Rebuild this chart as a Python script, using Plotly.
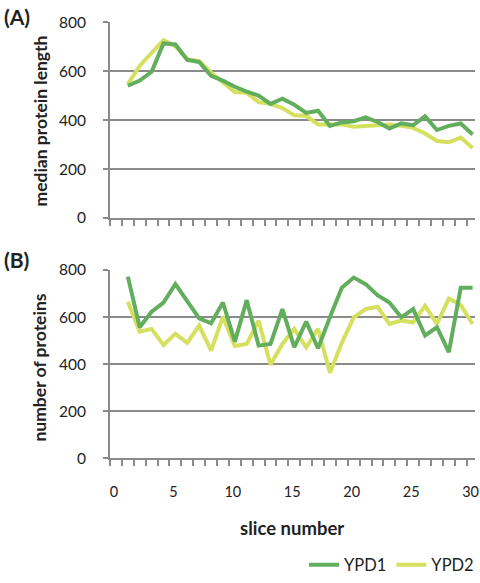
import plotly.graph_objects as go

slices = list(range(1, 31))

length_ypd1 = [541, 562, 598, 714, 710, 647, 638, 582, 562, 537,
               517, 501, 467, 488, 463, 430, 439, 377, 391, 396,
               412, 393, 366, 387, 380, 416, 360, 377, 387, 342]
length_ypd2 = [548, 622, 676, 727, 703, 649, 642, 595, 555, 515,
               512, 474, 467, 450, 420, 418, 383, 383, 383, 373,
               377, 383, 383, 377, 369, 346, 315, 310, 329, 286]

count_ypd1 = [772, 557, 623, 662, 740, 665, 595, 574, 662, 496,
              672, 479, 486, 634, 472, 581, 468, 600, 725, 768,
              740, 693, 662, 599, 634, 522, 557, 451, 725, 725]
count_ypd2 = [665, 538, 550, 482, 529, 491, 564, 458, 602, 477,
              486, 585, 398, 486, 550, 472, 550, 364, 491, 599,
              634, 644, 571, 585, 578, 648, 571, 679, 651, 571]

y_ticks = [0, 200, 400, 600, 800]
x_ticks = [0, 5, 10, 15, 20, 25, 30]

GREEN = "#62ae5d"
YELLOW = "#d5e05e"
GRID = "#8a8a8a"
FONT = "Lato"
W, H = 480, 583

def px_x(p):
    return p / W

def px_y(p):
    return 1 - p / H

fig = go.Figure()

fig.add_trace(go.Scatter(x=slices, y=length_ypd2, mode="lines", name="YPD2",
                         line=dict(color=YELLOW, width=4), xaxis="x", yaxis="y",
                         legendrank=2, showlegend=True))
fig.add_trace(go.Scatter(x=slices, y=length_ypd1, mode="lines", name="YPD1",
                         line=dict(color=GREEN, width=4), xaxis="x", yaxis="y",
                         legendrank=1, showlegend=True))
fig.add_trace(go.Scatter(x=slices, y=count_ypd2, mode="lines", name="YPD2",
                         line=dict(color=YELLOW, width=4), xaxis="x2", yaxis="y2",
                         showlegend=False))
fig.add_trace(go.Scatter(x=slices, y=count_ypd1, mode="lines", name="YPD1",
                         line=dict(color=GREEN, width=4), xaxis="x2", yaxis="y2",
                         showlegend=False))

xdom = [px_x(110), px_x(475)]
minor_vals = [v - 0.5 for v in range(0, 31)]

common_x = dict(
    domain=xdom, range=[-0.5, 30.2], showgrid=False, zeroline=False,
    showline=True, linecolor=GRID, linewidth=2,
    ticks="", tickvals=x_ticks, ticklabeloverflow="allow",
    minor=dict(ticks="outside", tickvals=minor_vals, ticklen=6,
               tickcolor=GRID, tickwidth=2, showgrid=False),
    tickfont=dict(family=FONT, size=14.5, color="#222"),
    fixedrange=True, automargin=False,
)
common_y = dict(
    range=[0, 800], tickvals=y_ticks, showgrid=True, gridcolor=GRID,
    gridwidth=2, zeroline=False, showline=True, linecolor=GRID, linewidth=2,
    ticks="outside", ticklen=5, tickcolor=GRID, tickwidth=2,
    ticklabelstandoff=14,
    tickfont=dict(family=FONT, size=15.5, color="#222"),
    fixedrange=True, automargin=False,
)

fig.update_layout(
    width=W, height=H, autosize=False,
    margin=dict(l=0, r=0, t=0, b=0, pad=0),
    paper_bgcolor="white", plot_bgcolor="white",
    xaxis=dict(common_x, anchor="y", showticklabels=False),
    yaxis=dict(common_y, anchor="x", domain=[px_y(220.7), px_y(22.7)]),
    xaxis2=dict(common_x, anchor="y2", showticklabels=True,
                ticklabelstandoff=19, ticklabelshift=-2),
    yaxis2=dict(common_y, anchor="x2", domain=[px_y(464), px_y(273.3)]),
    legend=dict(orientation="h", xanchor="right", x=0.998, yanchor="middle",
                y=px_y(572), font=dict(family=FONT, size=16.5, color="#222"),
                traceorder="normal", bgcolor="rgba(0,0,0,0)"),
    showlegend=True,
    annotations=[
        dict(text="<b>(A)</b>", x=px_x(2), y=px_y(16.5), xref="paper", yref="paper",
             xanchor="left", yanchor="middle", showarrow=False,
             font=dict(family=FONT, size=21, color="#222")),
        dict(text="<b>(B)</b>", x=px_x(2), y=px_y(263), xref="paper", yref="paper",
             xanchor="left", yanchor="middle", showarrow=False,
             font=dict(family=FONT, size=21, color="#222")),
        dict(text="<b>median protein length</b>", x=px_x(41), y=px_y(123),
             xref="paper", yref="paper", xanchor="center", yanchor="middle",
             textangle=-90, showarrow=False,
             font=dict(family=FONT, size=17.5, color="#222")),
        dict(text="<b>number of proteins</b>", x=px_x(40), y=px_y(372),
             xref="paper", yref="paper", xanchor="center", yanchor="middle",
             textangle=-90, showarrow=False,
             font=dict(family=FONT, size=17.5, color="#222")),
        dict(text="<b>slice number</b>", x=px_x(292), y=px_y(534),
             xref="paper", yref="paper", xanchor="center", yanchor="middle",
             showarrow=False, font=dict(family=FONT, size=18.5, color="#222")),
    ],
)

fig.write_html("out.html", config={"responsive": False, "displayModeBar": False},
               post_script="document.body.style.margin='0';document.body.style.overflow='hidden';")
